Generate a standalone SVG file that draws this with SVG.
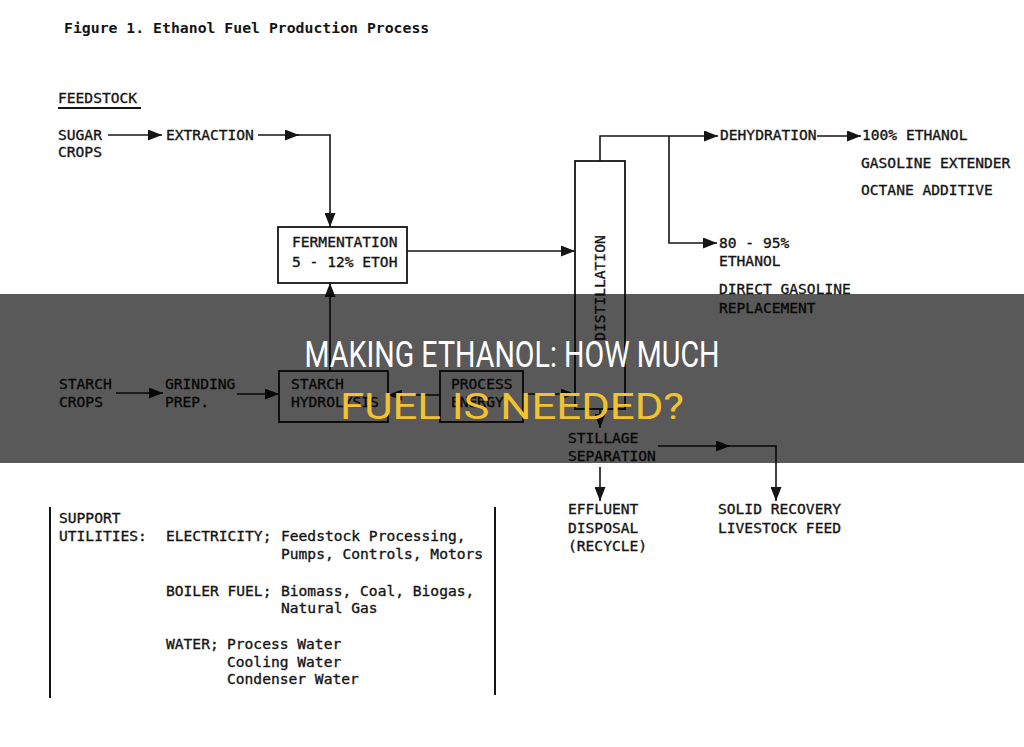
<svg xmlns="http://www.w3.org/2000/svg" width="1024" height="747" viewBox="0 0 1024 747">
<style>
.t{font-family:"DejaVu Sans Mono","Liberation Mono",monospace;font-size:14.6px;fill:#151515;stroke:#151515;stroke-width:0.35}
.title{font-family:"DejaVu Sans Mono","Liberation Mono",monospace;font-size:14.8px;font-weight:bold;fill:#151515}
.box{fill:none;stroke:#151515;stroke-width:1.8}
.c path{fill:none;stroke:#151515;stroke-width:1.6}
.ban{font-family:Roboto,"Liberation Sans",sans-serif;font-size:36px}
</style>
<defs>
<marker id="ah" markerUnits="userSpaceOnUse" markerWidth="14" markerHeight="11" refX="14" refY="5.5" orient="auto">
<path d="M0,0 L14,5.5 L0,11 z" fill="#151515"/>
</marker>
</defs>
<rect width="1024" height="747" fill="#fff"/>
<text class="title" x="64" y="33">Figure 1. Ethanol Fuel Production Process</text>
<g id="feedstock"><text class="t" x="58" y="103">FEEDSTOCK</text><path d="M58,108 H141" stroke="#151515" stroke-width="1.8"/></g>
<g id="sugar"><text class="t" x="58" y="140">SUGAR</text><text class="t" x="58" y="157">CROPS</text></g>
<g id="extraction"><text class="t" x="166" y="140">EXTRACTION</text></g>
<g id="fermentation"><rect class="box" x="278" y="227" width="129" height="56"/><text class="t" x="292" y="247">FERMENTATION</text><text class="t" x="292" y="267">5 - 12% ETOH</text></g>
<g id="distillation"><rect class="box" x="575" y="161" width="50" height="248"/><text class="t" text-anchor="middle" transform="translate(605,288) rotate(-90)">DISTILLATION</text></g>
<g id="dehydration"><text class="t" x="720" y="140">DEHYDRATION</text></g>
<g id="ethanol100"><text class="t" x="862" y="140">100% ETHANOL</text><text class="t" x="861" y="168">GASOLINE EXTENDER</text><text class="t" x="861" y="195">OCTANE ADDITIVE</text></g>
<g id="ethanol80"><text class="t" x="719" y="248">80 - 95%</text><text class="t" x="719" y="266">ETHANOL</text><text class="t" x="719" y="294">DIRECT GASOLINE</text><text class="t" x="719" y="313">REPLACEMENT</text></g>
<g id="starch"><text class="t" x="59" y="389">STARCH</text><text class="t" x="59" y="407">CROPS</text></g>
<g id="grinding"><text class="t" x="165" y="389">GRINDING</text><text class="t" x="165" y="407">PREP.</text></g>
<g id="hydrolysis"><rect class="box" x="279" y="371" width="109" height="51"/><text class="t" x="291" y="389">STARCH</text><text class="t" x="291" y="407">HYDROLYSIS</text></g>
<g id="energy"><rect class="box" x="440" y="371" width="83" height="51"/><text class="t" x="451" y="389">PROCESS</text><text class="t" x="451" y="407">ENERGY</text></g>
<g id="stillage"><text class="t" x="568" y="443">STILLAGE</text><text class="t" x="568" y="461">SEPARATION</text></g>
<g id="effluent"><text class="t" x="568" y="514">EFFLUENT</text><text class="t" x="568" y="533">DISPOSAL</text><text class="t" x="568" y="551">(RECYCLE)</text></g>
<g id="solid"><text class="t" x="718" y="514">SOLID RECOVERY</text><text class="t" x="718" y="533">LIVESTOCK FEED</text></g>
<g id="utilities">
<path d="M50,507 V698 M495,507 V695" stroke="#151515" stroke-width="2"/>
<text class="t" x="59" y="523">SUPPORT</text>
<text class="t" x="59" y="541">UTILITIES:</text>
<text class="t" x="166" y="541">ELECTRICITY;</text>
<text class="t" x="281" y="541">Feedstock Processing,</text>
<text class="t" x="281" y="559">Pumps, Controls, Motors</text>
<text class="t" x="166" y="596">BOILER FUEL;</text>
<text class="t" x="281" y="596">Biomass, Coal, Biogas,</text>
<text class="t" x="281" y="613">Natural Gas</text>
<text class="t" x="166" y="649">WATER;</text>
<text class="t" x="227" y="649">Process Water</text>
<text class="t" x="227" y="667">Cooling Water</text>
<text class="t" x="227" y="684">Condenser Water</text>
</g>
<g id="connectors" class="c">
<path d="M108,135 H162" marker-end="url(#ah)"/>
<path d="M258,135 H299" marker-end="url(#ah)"/>
<path d="M297,135 H330 V227" marker-end="url(#ah)"/>
<path d="M407,251 H575" marker-end="url(#ah)"/>
<path d="M330,371 V283" marker-end="url(#ah)"/>
<path d="M116,393 H163" marker-end="url(#ah)"/>
<path d="M237,394 H279" marker-end="url(#ah)"/>
<path d="M440,395 H388" marker-end="url(#ah)"/>
<path d="M523,394 H575" marker-end="url(#ah)"/>
<path d="M600,161 V136 H718" marker-end="url(#ah)"/>
<path d="M669,136 V243 H717" marker-end="url(#ah)"/>
<path d="M817,136 H861" marker-end="url(#ah)"/>
<path d="M600,409 V428" marker-end="url(#ah)"/>
<path d="M658,446 H730" marker-end="url(#ah)"/>
<path d="M726,446 H776 V501" marker-end="url(#ah)"/>
<path d="M600,467 V501" marker-end="url(#ah)"/>
</g>
<g id="banner">
<rect x="0" y="294" width="1024" height="169" fill="#000" fill-opacity="0.65"/>
<text class="ban" x="512" y="367" text-anchor="middle" fill="#fff" textLength="415" lengthAdjust="spacingAndGlyphs">MAKING ETHANOL: HOW MUCH</text>
<text class="ban" x="512" y="419" text-anchor="middle" fill="#f2c230" textLength="344" lengthAdjust="spacingAndGlyphs">FUEL IS NEEDED?</text>
</g>
</svg>
